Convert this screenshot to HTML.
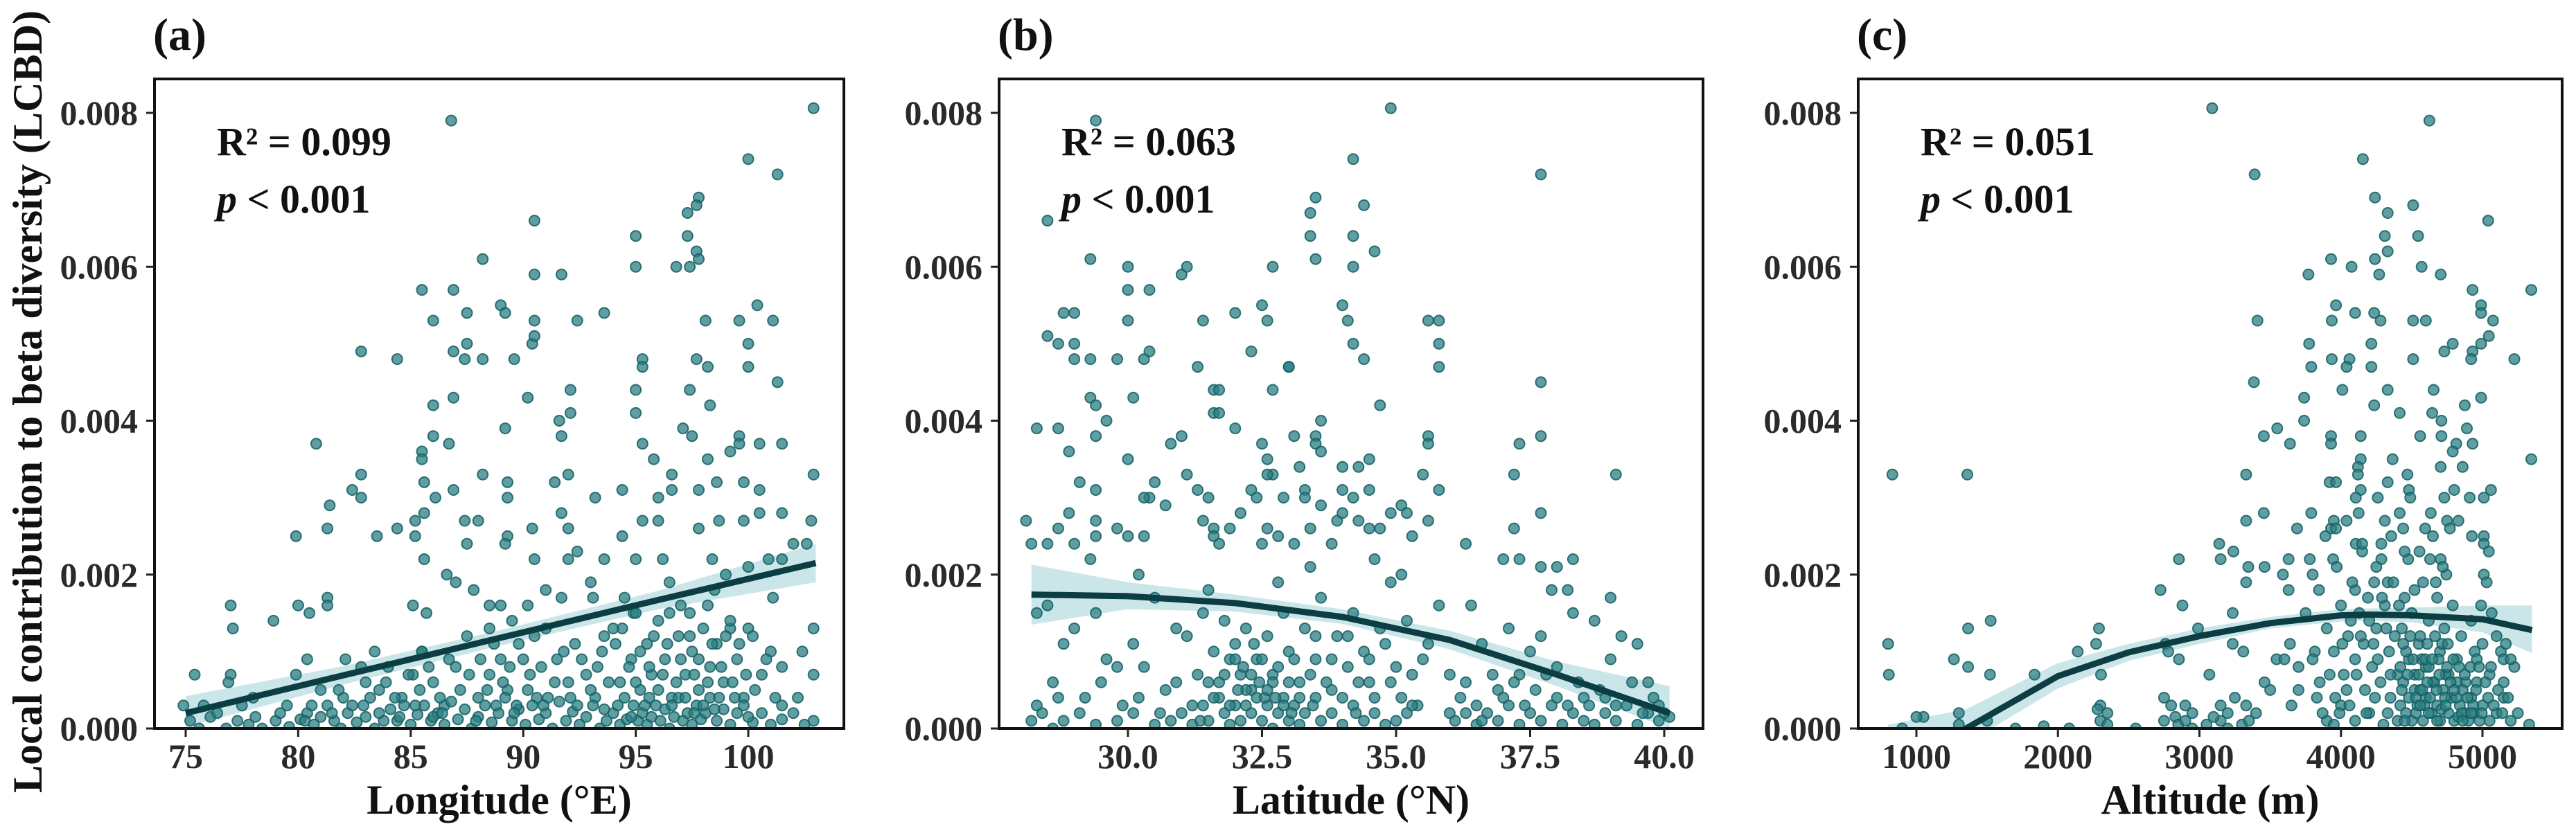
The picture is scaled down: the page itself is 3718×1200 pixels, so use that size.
<!DOCTYPE html>
<html><head><meta charset="utf-8"><title>LCBD scatter</title>
<style>
html,body{margin:0;padding:0;background:#fff;}
svg{display:block;font-family:"Liberation Serif",serif;font-weight:bold;}
</style></head>
<body>
<svg id="chart" width="3718" height="1200" viewBox="0 0 3718 1200" xmlns="http://www.w3.org/2000/svg">
<rect x="0" y="0" width="3718" height="1200" fill="#fff"/>
<defs>
<clipPath id="clipA"><rect x="223" y="114" width="995" height="938"/></clipPath>
<clipPath id="clipB"><rect x="1442" y="114" width="1016" height="938"/></clipPath>
<clipPath id="clipC"><rect x="2682" y="114" width="1016" height="938"/></clipPath>
</defs>
<text transform="translate(60,580) rotate(-90)" text-anchor="middle" font-size="60" textLength="1130" lengthAdjust="spacingAndGlyphs" fill="#111">Local contribution to beta diversity (LCBD)</text>
<g id="panelA"></g>
<g id="panelB"></g>
<g id="panelC"></g>
</svg>
<script>
// ---------- shared y axis ----------
const yTicks = [0, 0.002, 0.004, 0.006, 0.008];
const yTickLabels = ["0.000", "0.002", "0.004", "0.006", "0.008"];
// ---------- panel a: longitude ----------
const xTicksA = [75, 80, 85, 90, 95, 100];
const xTickLabelsA = ["75", "80", "85", "90", "95", "100"];
const pointsA = [[102.9,0.00806],[86.8,0.0079],[100,0.0074],[101.3,0.0072],[90.5,0.0066],[97.8,0.0069],[97.7,0.0068],[97.3,0.0067],[97.3,0.0064],[95,0.0064],[95,0.006],[97.7,0.0062],[97.8,0.0061],[97.4,0.006],[96.8,0.006],[90.5,0.0059],[91.7,0.0059],[88.2,0.0061],[85.5,0.0057],[86.9,0.0057],[89,0.0055],[89.2,0.0054],[93.6,0.0054],[92.4,0.0053],[90.5,0.0053],[86,0.0053],[98.1,0.0053],[99.6,0.0053],[101.1,0.0053],[100.4,0.0055],[87.5,0.0054],[82.8,0.0049],[84.4,0.0048],[86.9,0.0049],[87.5,0.005],[87.4,0.0048],[88.2,0.0048],[89.6,0.0048],[90.4,0.005],[90.5,0.0051],[95.3,0.0048],[95.3,0.0047],[97.7,0.0048],[98.2,0.0047],[100,0.005],[100,0.0047],[101.3,0.0045],[95,0.0044],[97.4,0.0044],[90.2,0.0043],[86.9,0.0043],[86,0.0042],[92.1,0.0044],[92.1,0.0041],[95,0.0041],[98.3,0.0042],[80.8,0.0037],[91.6,0.004],[91.7,0.0038],[89.2,0.0039],[86,0.0038],[86.7,0.0037],[85.5,0.0036],[85.5,0.0035],[97.1,0.0039],[97.5,0.0038],[95.3,0.0037],[95.8,0.0035],[99.6,0.0038],[100.5,0.0037],[101.5,0.0037],[99.6,0.0037],[99.2,0.0036],[98.2,0.0035],[82.8,0.0033],[82.4,0.0031],[82.8,0.003],[81.4,0.0029],[81.3,0.0026],[79.9,0.0025],[83.5,0.0025],[84.4,0.0026],[85.2,0.0025],[85.6,0.0032],[86.1,0.003],[86.9,0.0031],[88.2,0.0033],[89.3,0.0032],[89.3,0.003],[91.4,0.0032],[92,0.0033],[93.2,0.003],[94.4,0.0031],[96.6,0.0033],[96.6,0.0031],[97.8,0.0031],[98.6,0.0032],[99.8,0.0032],[100.5,0.0031],[102.9,0.0033],[102.8,0.0027],[101.5,0.0028],[100.5,0.0028],[99.8,0.0027],[98.7,0.0027],[97.8,0.0026],[96,0.003],[95.3,0.0027],[96,0.0027],[94.4,0.0025],[92,0.0026],[91.7,0.0028],[90.4,0.0026],[89.3,0.0025],[88,0.0027],[87.4,0.0027],[87.5,0.0024],[85.6,0.0028],[85.2,0.0027],[85.6,0.0022],[90.5,0.0022],[89.2,0.0024],[92,0.0022],[92.4,0.0023],[93.6,0.0022],[95,0.0022],[96.2,0.0022],[98.4,0.0022],[100,0.0021],[100.9,0.0022],[101.5,0.0022],[102,0.0024],[102.6,0.0024],[86.6,0.002],[87,0.0019],[80,0.0016],[80.5,0.0015],[81.3,0.0017],[81.3,0.0016],[77,0.0016],[77.1,0.0013],[78.9,0.0014],[85.1,0.0016],[85.7,0.0015],[87.8,0.0018],[88.5,0.0016],[89,0.0016],[90.2,0.0016],[91.7,0.0017],[93.1,0.0017],[93.6,0.0012],[94.4,0.0013],[94.9,0.0015],[96.5,0.0015],[97.4,0.0015],[98.2,0.0016],[99.2,0.0013],[100,0.0013],[101.1,0.0017],[102.9,0.0013],[101.5,0.0008],[102.4,0.001],[102.9,0.0007],[102.2,0.0004],[101.5,0.0003],[75.4,0.0007],[74.9,0.0003],[77,0.0007],[76.9,0.0006],[79.9,0.0007],[80.4,0.0009],[82.1,0.0009],[82.8,0.0008],[83.4,0.001],[83.6,0.0005],[84.6,0.0004],[85.5,0.001],[85.1,0.0007]];
const midA = [[85.5,0.001],[86,0.0006],[87,0.0008],[87.5,0.0012],[88.5,0.0007],[89,0.0009],[89.3,0.0005],[89.8,0.0011],[90.3,0.0007],[90.6,0.0004],[91,0.0013],[91.5,0.0009],[92,0.0006],[92.3,0.0011],[92.8,0.0007],[93.2,0.0004],[93.5,0.001],[94,0.0013],[94.3,0.0006],[94.8,0.0009],[95.2,0.0005],[95.5,0.0011],[95.7,0.0007],[96,0.0014],[96.3,0.0009],[96.6,0.0004],[96.9,0.0012],[97.2,0.0007],[97.5,0.001],[97.8,0.0005],[98,0.0013],[98.3,0.0008],[98.6,0.0011],[98.9,0.0006],[99.2,0.0014],[99.5,0.0009],[99.8,0.0004],[100.2,0.0012],[100.6,0.0007],[101,0.001],[88,0.0004],[86.5,0.0003],[84,0.0008],[83,0.0006],[82,0.0004],[81,0.0005],[79.5,0.0003],[78,0.0004],[95,0.0015],[97,0.0016],[98.5,0.0018],[99,0.002],[96.5,0.0019],[94.5,0.0017],[93,0.0019],[91,0.0018],[89.5,0.0014],[88.5,0.0013]];
const zeroA = [[75.2,0.0001],[75.6,0],[76.1,0.00015],[76.8,0],[77.3,0.0001],[77.8,0.00005],[78.4,0],[79,0.0001],[79.6,0.00002],[80.1,0.00012],[80.4,0.0002],[80.7,0.00005],[81,0.00015],[81.3,0.0003],[81.6,0.0001],[81.9,0],[82.2,0.0002],[82.6,0.00008],[83,0.00015],[83.4,0],[83.8,0.0001],[84.1,0.00025],[84.4,0.0001],[84.7,0.0003],[85,0.00005],[85.3,0.00018],[85.6,0.0003],[85.9,0.0001],[86.2,0.0002],[86.5,0.00005],[86.8,0.00035],[87.1,0.00012],[87.4,0.00025],[87.7,0],[88,0.00015],[88.3,0.0003],[88.6,0.00008],[88.9,0.0002],[89.2,0.0004],[89.5,0.0001],[89.8,0.00025],[90.1,0.00005],[90.4,0.0003],[90.7,0.00012],[91,0.0002],[91.3,0],[91.6,0.00035],[91.9,0.0001],[92.2,0.00022],[92.5,0.00005],[92.8,0.00015],[93.1,0.0003],[93.4,0],[93.7,0.0001],[94,0.0002],[94.3,0.00005],[94.6,0.00012],[94.9,0.0003],[95.1,0.0001],[95.3,0.0002],[95.5,0.00005],[95.7,0.00015],[95.9,0.0003],[96.1,0.0001],[96.3,0.00025],[96.5,0],[96.7,0.00015],[96.9,0.0004],[97.1,0.0001],[97.3,0.0002],[97.5,0.00005],[97.7,0.0003],[97.9,0.00012],[98.1,0.0002],[98.3,0.0004],[98.6,0.0001],[98.9,0.00025],[99.2,0.00005],[99.5,0.0002],[99.8,0.0003],[100.2,0.00008],[100.6,0.0002],[101,0.00005],[101.5,0.00012],[102,0.0002],[102.5,0.00005],[102.9,0.0001]];
const denseA = [[80.6,0.0003],[81.8,0.0005],[82.4,0.0003],[83.2,0.0004],[83.9,0.0006],[84.3,0.0004],[84.9,0.0007],[85.4,0.0005],[85.8,0.0008],[86.3,0.0004],[86.7,0.0009],[87.2,0.0005],[87.6,0.0007],[88.1,0.0009],[88.4,0.0005],[88.7,0.0011],[89.1,0.0006],[89.4,0.0008],[89.7,0.0003],[90,0.0009],[90.2,0.0005],[90.5,0.0012],[90.8,0.0008],[91.1,0.0004],[91.4,0.0006],[91.8,0.001],[92.1,0.0004],[92.6,0.0009],[93,0.0005],[93.3,0.0008],[93.8,0.0006],[94.1,0.0011],[94.5,0.0004],[94.7,0.0008],[95,0.0006],[95.2,0.001],[95.4,0.0003],[95.6,0.0008],[95.8,0.0012],[96,0.0005],[96.2,0.0007],[96.4,0.0011],[96.8,0.0006],[97,0.0009],[97.2,0.0004],[97.4,0.0012],[97.6,0.0007],[97.8,0.0009],[98,0.0003],[98.2,0.0006],[98.4,0.0011],[98.7,0.0004],[98.8,0.0008],[99,0.0012],[99.3,0.0006],[99.6,0.0011],[99.9,0.0007],[100.3,0.0005],[100.8,0.0009],[101.2,0.0004],[86,0.00015],[86.4,0.0002],[87.9,0.0001],[88.8,0.0003],[89.6,0.0002],[90.9,0.0003],[92.4,0.0003],[93.6,0.00025],[94.2,0.0003],[94.8,0.00015],[95.6,0.0004],[96.6,0.0003],[97.6,0.0002],[98.5,0.00025],[99.4,0.0004],[100,0.00015],[85.2,0.0003],[84.5,0.00015],[83.6,0.0002],[82.9,0.0003],[81.5,0.0002],[80.3,0.0001],[79.2,0.0002],[78.1,0.00015],[77.5,0.0003],[76.4,0.0002],[75.8,0.0003]];
const fitXA = [75, 82, 89, 96, 103];
const fitYA = [0.0002, 0.00069, 0.00118, 0.00167, 0.00215];
const fitLoA = [0.00002, 0.00057, 0.00108, 0.00155, 0.0019];
const fitHiA = [0.00042, 0.00081, 0.00128, 0.00179, 0.0024];
// ---------- panel b: latitude ----------
const xTicksB = [30, 32.5, 35, 37.5, 40];
const xTickLabelsB = ["30.0", "32.5", "35.0", "37.5", "40.0"];
const pointsB = [[34.9,0.00806],[29.4,0.0079],[34.2,0.0074],[37.7,0.0072],[28.5,0.0066],[33.5,0.0069],[33.4,0.0067],[33.4,0.0064],[33.5,0.0061],[34.4,0.0068],[34.2,0.0064],[34.2,0.006],[34.6,0.0062],[29.3,0.0061],[30,0.006],[31,0.0059],[31.1,0.006],[32.7,0.006],[30,0.0057],[30.4,0.0057],[28.8,0.0054],[29,0.0054],[28.5,0.0051],[29,0.005],[28.7,0.005],[30,0.0053],[31.4,0.0053],[32,0.0054],[32.5,0.0055],[32.6,0.0053],[34,0.0055],[34.1,0.0053],[34.2,0.005],[35.6,0.0053],[35.8,0.0053],[35.8,0.005],[35.8,0.0047],[29.3,0.0048],[29,0.0048],[29.8,0.0048],[30.4,0.0049],[30.3,0.0048],[31.3,0.0047],[32.3,0.0049],[33,0.0047],[33,0.0047],[34.4,0.0048],[31.6,0.0044],[31.7,0.0044],[32.7,0.0044],[30.1,0.0043],[29.3,0.0043],[29.4,0.0042],[34.7,0.0042],[37.7,0.0045],[28.3,0.0039],[28.7,0.0039],[29.6,0.004],[29.4,0.0038],[28.9,0.0036],[30,0.0035],[30.8,0.0037],[31,0.0038],[31.6,0.0041],[31.7,0.0041],[32,0.0039],[32.5,0.0037],[32.6,0.0035],[33.1,0.0038],[33.6,0.004],[33.5,0.0038],[33.5,0.0037],[33.6,0.0036],[34.5,0.0035],[35.6,0.0038],[35.6,0.0037],[37.3,0.0037],[37.7,0.0038],[39.1,0.0033],[37.2,0.0033],[35.5,0.0033],[35.8,0.0031],[34.3,0.0034],[34,0.0034],[34.5,0.0031],[34,0.0031],[34.2,0.003],[33.6,0.0029],[33.2,0.0034],[33.3,0.0031],[33.3,0.003],[32.9,0.003],[32.7,0.0033],[32.6,0.0033],[32.3,0.0031],[32.4,0.003],[31.3,0.0031],[31.5,0.003],[31.1,0.0033],[30.5,0.0032],[30.4,0.003],[30.3,0.003],[30.7,0.0029],[29.1,0.0032],[29.4,0.0031],[28.1,0.0027],[28.9,0.0028],[29.4,0.0027],[28.2,0.0024],[28.5,0.0024],[28.7,0.0026],[29,0.0024],[29.4,0.0025],[29.8,0.0026],[30,0.0025],[30.3,0.0025],[31.4,0.0027],[31.6,0.0026],[31.6,0.0025],[31.9,0.0026],[31.7,0.0024],[32.1,0.0028],[32.5,0.0024],[32.6,0.0026],[32.8,0.0025],[33.1,0.0024],[33.4,0.0026],[33.8,0.0024],[33.9,0.0027],[34,0.0028],[34.3,0.0027],[34.5,0.0026],[34.7,0.0026],[34.9,0.0028],[35.1,0.0029],[35.2,0.0028],[35.3,0.0025],[35.6,0.0027],[36.3,0.0024],[37.2,0.0026],[37.7,0.0028],[38.3,0.0022],[37,0.0022],[37.3,0.0022],[37.7,0.0021],[38,0.0021],[39,0.0017],[37.9,0.0018]];
const midB = [[28.3,0.0015],[28.5,0.0016],[28.6,0.0006],[28.8,0.0011],[29,0.0013],[29.2,0.0004],[29.4,0.0015],[29.6,0.0009],[29.8,0.0008],[30.1,0.0011],[30.3,0.0008],[30.5,0.0017],[30.7,0.0005],[30.9,0.0013],[31.1,0.0012],[31.3,0.0007],[31.4,0.0015],[31.6,0.001],[31.7,0.0006],[31.8,0.0014],[31.9,0.0009],[32,0.0011],[32.1,0.0007],[32.2,0.0013],[32.3,0.0005],[32.4,0.0009],[32.6,0.0012],[32.7,0.0007],[32.9,0.0015],[33,0.001],[33.2,0.0006],[33.3,0.0013],[33.5,0.0009],[33.6,0.0017],[33.8,0.0005],[33.9,0.0012],[34.1,0.0008],[34.2,0.0015],[34.4,0.001],[34.5,0.0006],[34.7,0.0013],[34.9,0.0019],[35,0.0008],[35.2,0.0014],[35.4,0.0003],[35.6,0.0011],[35.8,0.0016],[36,0.0007],[36.3,0.0006],[36.6,0.0011],[36.9,0.0005],[37.1,0.0013],[37.3,0.0007],[37.5,0.001],[37.7,0.0012],[38,0.0008],[38.3,0.0015],[38.5,0.0004],[38.7,0.0014],[39,0.0009],[39.2,0.0012],[39.5,0.0011],[39.7,0.0006],[39.9,0.0003],[35.1,0.002],[34.6,0.0022],[33.4,0.0021],[32.8,0.0019],[31.5,0.0018],[30.2,0.002],[29.3,0.0022],[36.4,0.0016],[38.2,0.0018]];
const zeroB = [[28.2,0.0001],[28.4,0.0002],[28.6,0],[28.8,0.0001],[29.4,0.00005],[29.8,0.0001],[30.1,0.0002],[30.5,0.00005],[30.8,0.0001],[31,0.0002],[31.2,0.00005],[31.4,0.0003],[31.5,0.0001],[31.7,0.0004],[31.8,0.0002],[31.9,0.00005],[32,0.0003],[32.1,0.0001],[32.2,0.0005],[32.3,0.0002],[32.4,0.0004],[32.5,0.0001],[32.6,0.0003],[32.7,0],[32.8,0.0002],[32.9,0.0004],[33,0.0001],[33.1,0.0003],[33.2,0.00005],[33.3,0.0002],[33.5,0.0004],[33.6,0.0001],[33.8,0.0002],[34,0.00005],[34.2,0.0003],[34.4,0.0001],[34.6,0.0002],[34.8,0.00005],[35,0.0001],[35.3,0.0003],[36.1,0.0001],[36.3,0.0002],[36.5,0.00005],[36.7,0.0002],[36.9,0.0001],[37.1,0.0003],[37.3,0.00005],[37.5,0.0002],[37.7,0.0001],[37.9,0.0003],[38.1,0.00005],[38.3,0.0002],[38.5,0.0001],[38.7,0.00005],[38.9,0.0002],[39.1,0.0001],[39.3,0.0003],[39.5,0.00005],[39.7,0.0002],[39.9,0.0001],[40.1,0.00015]];
const denseB = [[31.5,0.0006],[31.6,0.0004],[31.8,0.0007],[31.9,0.0003],[32,0.0009],[32.05,0.0005],[32.15,0.0008],[32.2,0.0003],[32.3,0.0007],[32.35,0.0011],[32.45,0.0006],[32.5,0.0009],[32.55,0.0004],[32.7,0.0006],[32.8,0.0008],[32.9,0.0003],[33,0.0006],[33.1,0.0009],[33.2,0.0004],[33.4,0.0007],[33.5,0.0012],[33.7,0.0006],[33.8,0.0009],[34,0.0004],[34.1,0.0012],[34.3,0.0006],[34.5,0.0009],[34.6,0.0004],[34.8,0.0011],[34.9,0.0006],[35.1,0.0004],[35.3,0.0007],[35.5,0.0009],[31.2,0.0003],[30.9,0.0006],[30.6,0.0002],[30.2,0.0004],[29.9,0.0003],[29.5,0.0006],[29.1,0.0002],[28.7,0.0004],[28.3,0.0003],[36.2,0.0004],[36.5,0.0003],[36.8,0.0007],[37,0.0004],[37.2,0.0006],[37.4,0.0003],[37.6,0.0005],[37.8,0.0007],[38,0.0004],[38.2,0.0003],[38.4,0.0006],[38.6,0.0003],[38.8,0.0005],[39.1,0.0003],[39.4,0.0006],[39.6,0.0002],[39.8,0.0004],[40,0.0002],[33.05,0.0002],[32.75,0.0004],[33.45,0.0003],[34.25,0.0002],[35.2,0.0002],[36,0.0002],[36.6,0.0001],[38.9,0.0004],[31.35,0.0001],[32.6,0.0005]];
const fitXB = [28.2, 30, 32, 34, 36, 38, 40.1];
const fitYB = [0.00174, 0.00172, 0.00163, 0.00145, 0.00115, 0.0007, 0.0002];
const fitLoB = [0.00135, 0.00155, 0.00152, 0.00136, 0.00103, 0.00055, 0.0000];
const fitHiB = [0.00213, 0.0019, 0.00174, 0.00155, 0.00127, 0.00087, 0.00055];
// ---------- panel c: altitude ----------
const xTicksC = [1000, 2000, 3000, 4000, 5000];
const xTickLabelsC = ["1000", "2000", "3000", "4000", "5000"];
const pointsC = [[3090,0.00806],[4625,0.0079],[4155,0.0074],[3390,0.0072],[5040,0.0066],[4240,0.0069],[4330,0.0067],[4310,0.0064],[4510,0.0068],[4545,0.0064],[4570,0.006],[4330,0.0062],[4240,0.0061],[4270,0.0059],[4075,0.006],[3930,0.0061],[3770,0.0059],[4705,0.0059],[4930,0.0057],[5345,0.0057],[3965,0.0055],[4100,0.0054],[4235,0.0054],[4280,0.0053],[4510,0.0053],[4600,0.0053],[4990,0.0055],[4990,0.0054],[5075,0.0053],[5045,0.0051],[4990,0.005],[3410,0.0053],[3935,0.0053],[3775,0.005],[3790,0.0047],[3935,0.0048],[4060,0.0048],[4040,0.0047],[4215,0.005],[4215,0.0047],[4510,0.0048],[4730,0.0049],[4790,0.005],[4930,0.0049],[4920,0.0048],[5225,0.0048],[3385,0.0045],[4010,0.0044],[4330,0.0044],[4415,0.0041],[4235,0.0042],[4655,0.0044],[4990,0.0043],[4875,0.0042],[3740,0.0043],[3740,0.004],[4710,0.004],[4645,0.0041],[3550,0.0039],[3455,0.0038],[3640,0.0037],[3930,0.0038],[3930,0.0037],[4140,0.0038],[4560,0.0038],[4710,0.0038],[4890,0.0039],[4930,0.0037],[4815,0.0037],[4790,0.0036],[4365,0.0035],[4140,0.0035],[4120,0.0034],[5345,0.0035],[830,0.0033],[1360,0.0033],[3330,0.0033],[3920,0.0032],[3965,0.0032],[4120,0.0033],[4140,0.0031],[4330,0.0032],[4470,0.0033],[4480,0.0031],[4705,0.0034],[4860,0.0034],[4800,0.0031],[4910,0.003],[5060,0.0031],[5010,0.003],[4490,0.003],[4260,0.003],[4105,0.003],[3330,0.0027],[3455,0.0028],[3690,0.0026],[3790,0.0028],[3930,0.0026],[3950,0.0027],[4040,0.0027],[4125,0.0028],[4310,0.0027],[4415,0.0028],[4440,0.0026],[4595,0.0026],[4635,0.0028],[4730,0.003],[4750,0.0027],[4770,0.0026],[4830,0.0027],[4925,0.0025],[5010,0.0025],[5010,0.0024],[4355,0.0025],[4285,0.0024],[4105,0.0024],[3890,0.0025],[3965,0.0026],[3140,0.0024],[3240,0.0023],[2855,0.0022],[3150,0.0022],[3345,0.0021],[3460,0.0021],[3630,0.0022],[3590,0.002],[3780,0.0022],[3945,0.0022],[3970,0.0021],[4150,0.0023],[4285,0.0022],[4475,0.0022],[4555,0.0023],[4630,0.0022],[4705,0.0022],[5010,0.002],[5045,0.0023],[5030,0.0019],[2725,0.0018],[2880,0.0016],[3330,0.0019],[3235,0.0015],[3630,0.0018],[3845,0.0018],[4100,0.0018],[4235,0.0019],[4330,0.0019],[4520,0.0018],[4670,0.0019],[4745,0.002],[4990,0.0016],[5065,0.0015],[1525,0.0014],[1365,0.0013],[2290,0.0013],[2270,0.0011],[800,0.0011],[805,0.0007],[1265,0.0009],[1365,0.0008],[1520,0.0007],[1835,0.0007],[2140,0.001],[2305,0.0007],[2760,0.0011],[2780,0.001],[2855,0.0009],[2990,0.0013],[3070,0.0007],[3235,0.0011],[3310,0.001],[3460,0.0006],[3545,0.0009],[3640,0.0011],[3700,0.0008],[3815,0.001],[5130,0.001],[5150,0.0009],[5225,0.0008],[5165,0.0011],[4945,0.001]];
const midC = [[3700,0.0005],[3800,0.0009],[3850,0.0006],[3900,0.0013],[3950,0.001],[4000,0.0016],[4020,0.0007],[4050,0.0012],[4080,0.0019],[4100,0.0009],[4130,0.0015],[4160,0.0011],[4190,0.0017],[4220,0.0008],[4250,0.0013],[4280,0.0006],[4310,0.0016],[4340,0.001],[4370,0.0019],[4400,0.0007],[4430,0.0013],[4450,0.0017],[4480,0.0009],[4500,0.0015],[4520,0.0005],[4550,0.0011],[4580,0.0019],[4600,0.0008],[4620,0.0014],[4650,0.0006],[4680,0.0017],[4700,0.001],[4730,0.0013],[4760,0.0007],[4790,0.0016],[4820,0.0009],[4850,0.0012],[4880,0.0006],[4920,0.0014],[4960,0.0009],[5000,0.0011],[5050,0.0007],[5100,0.0012],[5150,0.0006],[5200,0.0009],[2300,0.0003],[2350,0.0002],[2280,0.00025],[2750,0.0004],[2800,0.0003],[2830,0.00015],[3150,0.0003],[3250,0.0004],[3330,0.0003],[3400,0.0002],[1050,0.00015],[1000,0.00015],[1300,0.0002],[3600,0.0009],[3750,0.0015],[3800,0.002],[4150,0.0024],[4250,0.0021],[4450,0.0023],[4650,0.0025],[4720,0.0021]];
const zeroC = [[900,0],[1300,0.00005],[1500,0.0001],[1700,0],[1900,0.00003],[2080,0],[2300,0.0001],[2350,0.00005],[2550,0],[2750,0.0001],[2850,0.00005],[2900,0.0001],[2950,0],[3050,0.00005],[3150,0.0001],[3200,0],[3300,0.00005],[3900,0.0001],[3950,0.00005],[4000,0.0003],[4100,0.0001],[4200,0.0002],[4300,0.00005],[4350,0.0004],[4400,0.0001],[4420,0.0003],[4440,0.0006],[4460,0.0002],[4480,0.0004],[4500,0.0001],[4520,0.0007],[4540,0.0003],[4560,0.0005],[4580,0.0001],[4600,0.0004],[4620,0.0008],[4640,0.0002],[4660,0.0006],[4680,0.0003],[4700,0.0001],[4720,0.0005],[4740,0.0007],[4760,0.0002],[4780,0.0004],[4800,0.0001],[4820,0.0006],[4840,0.0003],[4860,0.0005],[4880,0.0002],[4900,0.0001],[4920,0.0004],[4940,0.0002],[4960,0.0006],[4980,0.0001],[5000,0.0003],[5050,0.0001],[5100,0.0002],[5150,0.0004],[5200,0.0001],[5250,0.0002],[5330,0.00005],[4570,0.0009],[4610,0.0006],[4690,0.0009],[4750,0.0008],[4530,0.0002],[4450,0.0001],[4590,0.0003],[4710,0.00025],[4830,0.00015]];
const denseC = [[4420,0.0008],[4430,0.0005],[4460,0.001],[4470,0.0007],[4490,0.0012],[4510,0.0009],[4530,0.0004],[4550,0.0007],[4560,0.0012],[4575,0.0005],[4595,0.0009],[4610,0.0011],[4630,0.0004],[4645,0.0009],[4665,0.0012],[4675,0.0005],[4695,0.0007],[4715,0.0011],[4735,0.0004],[4755,0.0011],[4775,0.0006],[4795,0.0009],[4815,0.0004],[4835,0.0008],[4855,0.0002],[4875,0.0007],[4895,0.0004],[4915,0.0008],[4935,0.0003],[4955,0.0005],[4975,0.0008],[4995,0.0002],[5020,0.0006],[5040,0.0004],[5060,0.0008],[5080,0.0003],[5110,0.0005],[5140,0.0002],[5180,0.0004],[3920,0.0007],[3960,0.0004],[4010,0.0011],[4040,0.0005],[4070,0.0014],[4110,0.0007],[4140,0.0012],[4170,0.0005],[4200,0.0014],[4230,0.0011],[4260,0.0009],[4290,0.0017],[4320,0.0013],[4350,0.0007],[4380,0.0012],[4410,0.0016],[4440,0.0011],[4560,0.0003],[4620,0.0002],[4680,0.0001],[4740,0.0003],[4800,0.0005],[4860,0.0001],[4920,0.0002],[3830,0.0004],[3870,0.0002],[3990,0.0002],[4060,0.0003],[4180,0.0002],[4240,0.0004],[4330,0.0002],[2900,0.0003],[2950,0.0002],[3100,0.00015],[3200,0.0002],[3350,0.0001],[3500,0.0005],[3650,0.0003]];
const fitXC = [800, 1350, 2000, 2500, 3000, 3500, 4000, 4200, 4500, 5000, 5350];
const fitYC = [-0.00085, 0, 0.00068, 0.00099, 0.0012, 0.00137, 0.00147, 0.00148, 0.00147, 0.00142, 0.00128];
const fitLoC = [-0.0012, -0.0002, 0.00052, 0.00088, 0.0011, 0.0013, 0.00139, 0.0014, 0.00138, 0.00125, 0.00098];
const fitHiC = [0.00005, 0.00025, 0.00085, 0.0011, 0.0013, 0.00145, 0.00155, 0.00156, 0.00157, 0.0016, 0.0016];

const NS = "http://www.w3.org/2000/svg";
function mk(tag, attrs, parent) {
  const e = document.createElementNS(NS, tag);
  for (const k in attrs) e.setAttribute(k, attrs[k]);
  parent.appendChild(e);
  return e;
}
function yScale(v) { return 1052 - (v / 0.008) * 889; }

function drawPanel(cfg) {
  const g = document.getElementById(cfg.id);
  const xs = v => cfg.px0 + (v - cfg.d0) / (cfg.d1 - cfg.d0) * (cfg.px1 - cfg.px0);
  const L = cfg.left, R = cfg.right, T = 114, B = 1052;
  const plot = mk("g", {"clip-path": "url(#" + cfg.clip + ")"}, g);
  
  
  let d = "";
  cfg.fx.forEach((x, i) => { d += (i ? "L" : "M") + xs(x).toFixed(1) + "," + yScale(cfg.fhi[i]).toFixed(1); });
  for (let i = cfg.fx.length - 1; i >= 0; i--) d += "L" + xs(cfg.fx[i]).toFixed(1) + "," + yScale(cfg.flo[i]).toFixed(1);
  const band = mk("path", {d: d + "Z", fill: "#a9d6db", "fill-opacity": "0.6", stroke: "none"}, plot);
  
  
  const allPts = cfg.pts.concat(cfg.mid, cfg.zero, cfg.dense);
  allPts.forEach(p => {
    const c = mk("circle", {cx: xs(p[0]).toFixed(1), cy: yScale(p[1]).toFixed(1), r: 7.5, fill: "#2b7f82", "fill-opacity": "0.75", stroke: "#135e63", "stroke-opacity": "0.85", "stroke-width": 2}, plot);
    
    
  });
  let ld = "";
  cfg.fx.forEach((x, i) => { ld += (i ? "L" : "M") + xs(x).toFixed(1) + "," + yScale(cfg.fy[i]).toFixed(1); });
  const line = mk("path", {d: ld, fill: "none", stroke: "#0b3d42", "stroke-width": 9, "stroke-linejoin": "round"}, plot);
  
  
  const fr = mk("rect", {x: L, y: T, width: R - L, height: B - T, fill: "none", stroke: "#111", "stroke-width": 4}, g);
  
  
  yTicks.forEach((v, i) => {
    const y = yScale(v);
    const t = mk("line", {x1: L - 12, x2: L, y1: y, y2: y, stroke: "#222", "stroke-width": 3}, g);
    
    
    const tx = mk("text", {x: L - 24, y: y + 17, "text-anchor": "end", "font-size": 50, fill: "#2a2a2a"}, g);
    tx.textContent = yTickLabels[i];
    
    
  });
  cfg.xt.forEach((v, i) => {
    const x = xs(v);
    const t = mk("line", {x1: x, x2: x, y1: B, y2: B + 12, stroke: "#222", "stroke-width": 3}, g);
    
    
    const tx = mk("text", {x: x, y: 1109, "text-anchor": "middle", "font-size": 50, fill: "#2a2a2a"}, g);
    tx.textContent = cfg.xl[i];
    
    
  });
  const xt = mk("text", {x: (L + R) / 2, y: 1175, "text-anchor": "middle", "font-size": 60, fill: "#111"}, g);
  xt.textContent = cfg.xtitle;
  
  
  const pl = mk("text", {x: L - 2, y: 72, "font-size": 66, fill: "#111"}, g);
  pl.textContent = cfg.label;
  
  
  const r2 = mk("text", {x: L + 90, y: 224, "font-size": 58, fill: "#111"}, g);
  r2.textContent = cfg.r2;
  
  
  const pv = mk("text", {x: L + 90, y: 307, "font-size": 58, fill: "#111"}, g);
  pv.innerHTML = '<tspan font-style="italic">p</tspan> &lt; 0.001';
  
  
}

drawPanel({id: "panelA", clip: "clipA", left: 223, right: 1218, d0: 75, d1: 100, px0: 268, px1: 1080,
  pts: pointsA, mid: midA, zero: zeroA, dense: denseA, fx: fitXA, fy: fitYA, flo: fitLoA, fhi: fitHiA,
  xt: xTicksA, xl: xTickLabelsA, xtitle: "Longitude (°E)", label: "(a)", r2: "R² = 0.099"});
drawPanel({id: "panelB", clip: "clipB", left: 1442, right: 2458, d0: 30, d1: 40, px0: 1628, px1: 2402,
  pts: pointsB, mid: midB, zero: zeroB, dense: denseB, fx: fitXB, fy: fitYB, flo: fitLoB, fhi: fitHiB,
  xt: xTicksB, xl: xTickLabelsB, xtitle: "Latitude (°N)", label: "(b)", r2: "R² = 0.063"});
drawPanel({id: "panelC", clip: "clipC", left: 2682, right: 3698, d0: 1000, d1: 5000, px0: 2766, px1: 3583,
  pts: pointsC, mid: midC, zero: zeroC, dense: denseC, fx: fitXC, fy: fitYC, flo: fitLoC, fhi: fitHiC,
  xt: xTicksC, xl: xTickLabelsC, xtitle: "Altitude (m)", label: "(c)", r2: "R² = 0.051"});
</script>
</body></html>
